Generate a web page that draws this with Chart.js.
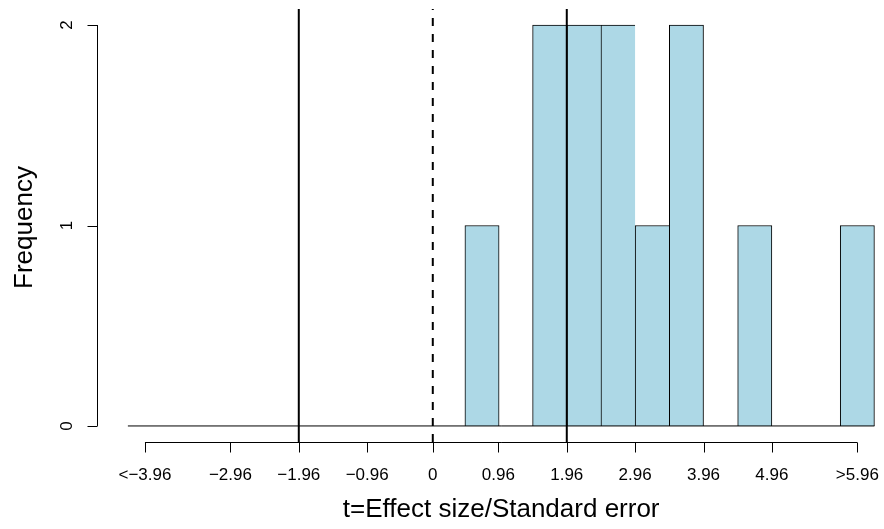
<!DOCTYPE html>
<html>
<head>
<meta charset="utf-8">
<script src="https://cdn.jsdelivr.net/npm/chart.js@4/dist/chart.umd.min.js"></script>
<style>
    html, body { margin: 0; padding: 0; background: #ffffff; }
    #wrap { width: 884px; height: 529px; }
</style>
</head>
<body>
<div id="wrap"><canvas id="chartCanvas" width="884" height="529"></canvas></div>
<script>
// Histogram breaks and counts
const binEdges = [-4.46, -3.96, -3.46, -2.96, -2.46, -1.96, -1.46, -0.96, -0.48, 0, 0.48, 0.96,
                  1.46, 1.96, 2.46, 2.96, 3.46, 3.96, 4.46, 4.96, 5.46, 5.96, 6.46];
const binCounts = [0, 0, 0, 0, 0, 0, 0, 0, 0, 0, 1, 0, 2, 2, 2, 1, 2, 0, 1, 0, 0, 1];

// Axis ticks
const xTickValues = [-4.21, -2.96, -1.96, -0.96, 0, 0.96, 1.96, 2.96, 3.96, 4.96, 6.21];
const xTickLabels = ['<\u22123.96', '\u22122.96', '\u22121.96', '\u22120.96', '0', '0.96', '1.96', '2.96', '3.96', '4.96', '>5.96'];
const yTickValues = [0, 1, 2];

// Reference lines (critical values and zero)
const refLines = [-1.96, 0, 1.96];
const refDashed = [false, true, false];

// Axis limits (R style 4% extension)
const xMin = -4.897, xMax = 6.6;
const yMin = -0.08, yMax = 2.08;

const FONT = '"Liberation Sans", Arial, Helvetica, sans-serif';

// only the non-empty bins become bars
const barBins = [];
binCounts.forEach((c, i) => { if (c > 0) barBins.push(i); });
const barData = barBins.map(i => ({ x: (binEdges[i] + binEdges[i + 1]) / 2, y: binCounts[i] }));
// skip right border when the next bin is also a bar (shared edge)
const barRight = barBins.map(i => (binCounts[i + 1] > 0 ? 0 : 1));

const datasets = [{
    type: 'bar',
    data: barData,
    backgroundColor: '#ADD8E6',
    borderColor: '#000000',
    borderWidth: c => ({ top: 1, left: 1, bottom: 0, right: barRight[c.dataIndex] }),
    borderSkipped: false,
    barPercentage: 1,
    categoryPercentage: 1,
    order: 2
}, {
    // zero-height bins drawn as a baseline, like R's hist
    type: 'line',
    data: [{ x: binEdges[0], y: 0 }, { x: binEdges[binEdges.length - 1], y: 0 }],
    borderColor: '#000000',
    borderWidth: 1,
    pointRadius: 0,
    order: 1
}];

refLines.forEach((v, i) => {
    datasets.push({
        type: 'line',
        data: [{ x: v, y: yMin }, { x: v, y: yMax }],
        borderColor: '#000000',
        borderWidth: 2,
        borderDash: refDashed[i] ? [8, 8] : [],
        pointRadius: 0,
        order: 0
    });
});

// R-like axes: line only from first to last tick, outward ticks
const rAxesPlugin = {
    id: 'rAxes',
    afterDraw(chart) {
        const { ctx, chartArea, scales: { x, y } } = chart;
        ctx.save();
        ctx.strokeStyle = '#000000';
        ctx.fillStyle = '#000000';
        ctx.lineWidth = 1;

        // x axis
        const ay = Math.round(chartArea.bottom) + 0.5;
        ctx.beginPath();
        ctx.moveTo(x.getPixelForValue(xTickValues[0]), ay);
        ctx.lineTo(x.getPixelForValue(xTickValues[xTickValues.length - 1]), ay);
        xTickValues.forEach(v => {
            const px = Math.round(x.getPixelForValue(v)) + 0.5;
            ctx.moveTo(px, ay);
            ctx.lineTo(px, ay + 10);
        });
        ctx.stroke();

        ctx.font = '17px ' + FONT;
        ctx.textAlign = 'center';
        ctx.textBaseline = 'alphabetic';
        xTickLabels.forEach((t, i) => {
            ctx.fillText(t, x.getPixelForValue(xTickValues[i]), 480);
        });

        // y axis
        const ax = Math.round(chartArea.left) - 0.5;
        ctx.beginPath();
        ctx.moveTo(ax, y.getPixelForValue(yTickValues[0]));
        ctx.lineTo(ax, y.getPixelForValue(yTickValues[yTickValues.length - 1]));
        yTickValues.forEach(v => {
            const py = Math.round(y.getPixelForValue(v)) + 0.5;
            ctx.moveTo(ax, py);
            ctx.lineTo(ax - 10, py);
        });
        ctx.stroke();

        yTickValues.forEach(v => {
            ctx.save();
            ctx.translate(72, y.getPixelForValue(v));
            ctx.rotate(-Math.PI / 2);
            ctx.fillText(String(v), 0, 0);
            ctx.restore();
        });

        // axis titles
        ctx.font = '26px ' + FONT;
        ctx.fillText('t=Effect size/Standard error', x.getPixelForValue(1.0), 517);

        ctx.save();
        ctx.translate(32, (chartArea.top + chartArea.bottom) / 2 + 2);
        ctx.rotate(-Math.PI / 2);
        ctx.fillText('Frequency', 0, 0);
        ctx.restore();

        ctx.restore();
    }
};

const chart = new Chart(document.getElementById('chartCanvas').getContext('2d'), {
    type: 'bar',
    data: { datasets: datasets },
    options: {
        responsive: false,
        devicePixelRatio: 1,
        animation: false,
        layout: { padding: { left: 98, top: 9, right: 0, bottom: 87 } },
        plugins: {
            legend: { display: false },
            tooltip: { enabled: false }
        },
        scales: {
            x: {
                type: 'linear',
                display: false,
                offset: false,
                min: xMin,
                max: xMax,
                afterBuildTicks: scale => {
                    scale.ticks = xTickValues.map(v => ({ value: v }));
                }
            },
            y: {
                type: 'linear',
                display: false,
                min: yMin,
                max: yMax
            }
        }
    },
    plugins: [rAxesPlugin]
});
</script>
</body>
</html>
